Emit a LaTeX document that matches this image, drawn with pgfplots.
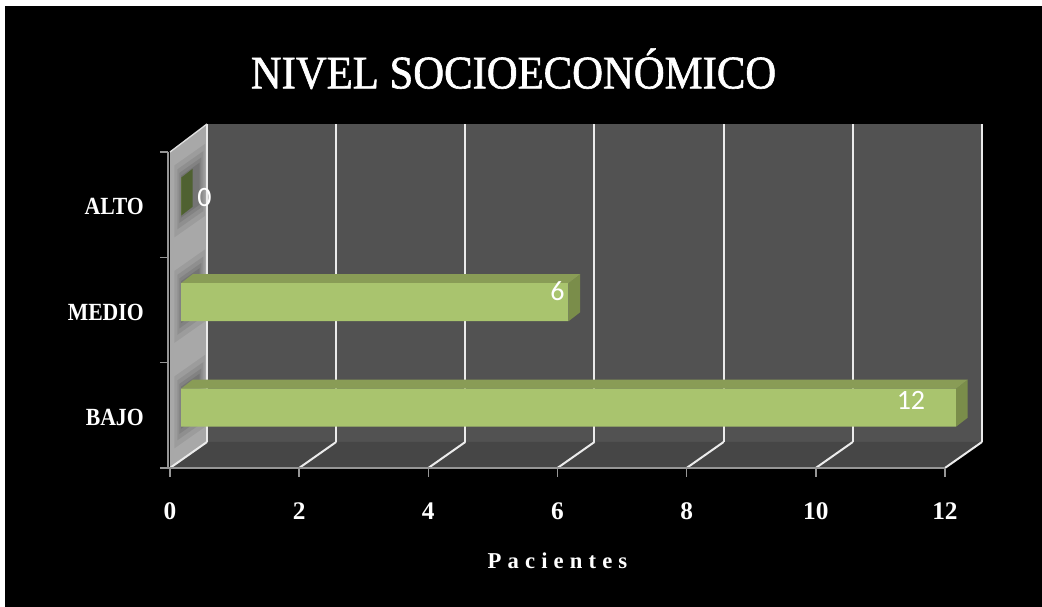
\documentclass[border=0pt]{standalone}
\usepackage{pgfplots}
\pgfplotsset{compat=1.18}
\usepackage{pgfplotstable}
\usepackage{fontspec}
\setmainfont{Liberation Serif}
\newfontfamily\titlefont[FakeStretch=0.915, FakeBold=1.3]{Liberation Serif}
\newfontfamily\catfont[FakeStretch=0.88]{Liberation Serif}
\newfontfamily\tickfont{Liberation Serif}
\newfontfamily\pacfont[LetterSpace=27]{Liberation Serif}
\newfontfamily\labfont{Carlito}

\definecolor{backwall}{RGB}{82,82,82}
\definecolor{floorc}{RGB}{70,70,70}
\definecolor{sidewall}{RGB}{168,168,168}
\definecolor{gridc}{RGB}{235,235,235}
\definecolor{axisc}{RGB}{150,150,150}
\definecolor{barfront}{RGB}{169,196,110}
\definecolor{bartop}{RGB}{137,156,86}
\definecolor{barside}{RGB}{122,141,74}
\definecolor{barzero}{RGB}{79,97,49}

% y = vertical position of category (front plane), val = value, lx/ly = label offsets (pt)
\pgfplotstableread{
y val lx ly
52.5 12 -25.5 11.6
158 6 0 13.9
263.5 0 25.9 4.9
}\datatable

\begin{document}
\begin{tikzpicture}
\begin{axis}[
  set layers,
  scale only axis,
  width=581.25pt, height=237pt,
  xmin=0, xmax=12, ymin=0, ymax=316,
  clip=false,
  axis line style={draw=none},
  xtick={0,2,...,12},
  ytick={52.5,158,263.5},
  yticklabels={BAJO,MEDIO,ALTO},
  tick style={draw=none},
  xtick pos=left, ytick pos=left,
  /pgf/number format/assume math mode=true,
  xticklabel style={font=\tickfont\bfseries\fontsize{19}{22}\selectfont, text=white, anchor=base, yshift=-39pt},
  yticklabel style={font=\catfont\bfseries\fontsize{18.5}{21}\selectfont, text=white, anchor=base east, inner sep=0pt, xshift=-19.5pt, yshift=-7.7pt},
  xlabel={Pacientes},
  xlabel style={at={(axis description cs:0.5,-0.3196)}, anchor=base, font=\pacfont\bfseries\fontsize{17}{20}\selectfont, text=white, inner sep=0pt},
  title={NIVEL SOCIOECONÓMICO},
  title style={at={(axis description cs:0.4433,1.176)}, anchor=base, font=\titlefont\fontsize{35}{40}\selectfont, text=white, inner sep=0pt},
]
\begin{pgfonlayer}{axis background}
\fill[white] (axis cs:-2.6324,-139) rectangle (axis cs:13.5026,468);
\fill[black] (axis cs:-2.555,-139) rectangle (axis cs:13.5026,462);
\end{pgfonlayer}

% walls and floor
\fill[backwall] (axis cs:0.573,26) rectangle (axis cs:12.573,344);
\fill[floorc] (axis cs:0,0) -- (axis cs:12,0) -- (axis cs:12.573,26) -- (axis cs:0.573,26) -- cycle;
\fill[sidewall] (axis cs:0,0) -- (axis cs:0.573,26) -- (axis cs:0.573,344) -- (axis cs:0,316) -- cycle;

% soft shadows on side wall
\pgfplotsinvokeforeach{52.5,158,263.5}{
  \fill[black, opacity=0.07] (axis cs:{0.573*0.12},{#1-36+26*0.12}) -- (axis cs:{0.573*0.95},{#1-36+26*0.95}) -- (axis cs:{0.573*0.95},{#1+36+26*0.95}) -- (axis cs:{0.573*0.12},{#1+36+26*0.12}) -- cycle;
  \fill[black, opacity=0.08] (axis cs:{0.573*0.2},{#1-30+26*0.2}) -- (axis cs:{0.573*0.9},{#1-30+26*0.9}) -- (axis cs:{0.573*0.9},{#1+30+26*0.9}) -- (axis cs:{0.573*0.2},{#1+30+26*0.2}) -- cycle;
  \fill[black, opacity=0.09] (axis cs:{0.573*0.25},{#1-25+26*0.25}) -- (axis cs:{0.573*0.85},{#1-25+26*0.85}) -- (axis cs:{0.573*0.85},{#1+25+26*0.85}) -- (axis cs:{0.573*0.25},{#1+25+26*0.25}) -- cycle;
  \fill[black, opacity=0.10] (axis cs:{0.573*0.3},{#1-21+26*0.3}) -- (axis cs:{0.573*0.8},{#1-21+26*0.8}) -- (axis cs:{0.573*0.8},{#1+21+26*0.8}) -- (axis cs:{0.573*0.3},{#1+21+26*0.3}) -- cycle;
}

% grid lines
\pgfplotsinvokeforeach{0,2,4,6,8,10,12}{
  \draw[gridc, line width=1.5pt] (axis cs:{#1+0.573},26) -- (axis cs:{#1+0.573},344);
  \draw[gridc, line width=1.5pt] (axis cs:#1,0) -- (axis cs:{#1+0.573},26);
}
\draw[gray!25, line width=1pt] (axis cs:0,316) -- (axis cs:0.573,344);

% axis lines and tick marks
\draw[axisc, line width=1.3pt] (axis cs:-0.124,0) -- (axis cs:12,0);
\draw[axisc, line width=1.1pt] (axis cs:-0.031,0) -- (axis cs:-0.031,316);
\pgfplotsinvokeforeach{0,105.33,210.67,316}{
  \draw[axisc, line width=1.1pt] (axis cs:-0.155,#1) -- (axis cs:-0.031,#1);
}
\pgfplotsinvokeforeach{0,2,4,6,8,10,12}{
  \draw[axisc, line width=1.1pt] (axis cs:#1,0) -- (axis cs:#1,-9);
}

% bar end faces and top faces (3D)
\addplot[fill=barside, draw=none, mark=none] coordinates {(12.172,41.3) (12.352,50.3) (12.352,88.3) (12.172,79.3)} -- cycle;
\addplot[fill=bartop, draw=none, mark=none] coordinates {(0.172,79.3) (12.172,79.3) (12.352,88.3) (0.352,88.3)} -- cycle;
\addplot[fill=barside, draw=none, mark=none] coordinates {(6.172,146.8) (6.352,155.8) (6.352,193.8) (6.172,184.8)} -- cycle;
\addplot[fill=bartop, draw=none, mark=none] coordinates {(0.172,184.8) (6.172,184.8) (6.352,193.8) (0.352,193.8)} -- cycle;
\addplot[fill=barzero, draw=none, mark=none] coordinates {(0.172,252.3) (0.352,261.3) (0.352,299.3) (0.172,290.3)} -- cycle;

% bar front faces
\addplot[xbar, bar width=38, fill=barfront, draw=none, xshift=8.25pt, yshift=5.85pt] table[x=val, y=y] {\datatable};

% value labels
\addplot[draw=none, mark=none, nodes near coords, point meta=x,
  visualization depends on={\thisrow{lx}\as\lx},
  visualization depends on={\thisrow{ly}\as\ly},
  nodes near coords style={font=\labfont\fontsize{21}{24}\selectfont, text=white, anchor=center, xshift=\lx pt, yshift=\ly pt}]
  table[x=val, y=y] {\datatable};
\end{axis}
\end{tikzpicture}
\end{document}
